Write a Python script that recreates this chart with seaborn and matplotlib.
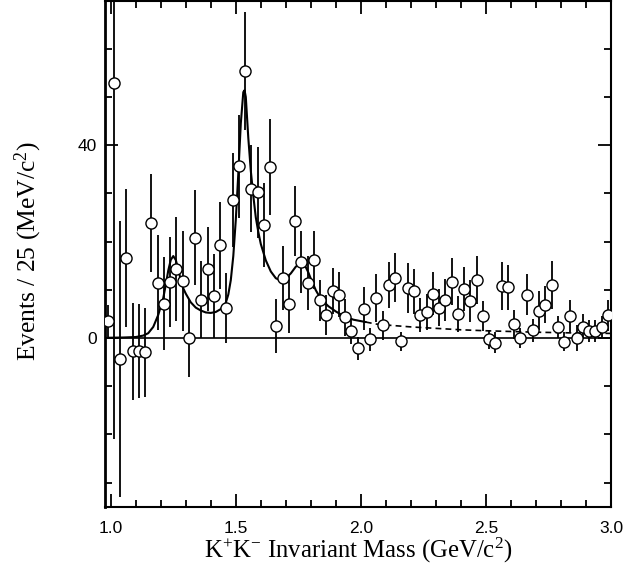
import numpy as np
import pandas as pd
import matplotlib
matplotlib.use("Agg")
import matplotlib.pyplot as plt
from matplotlib.ticker import MultipleLocator
import seaborn as sns

# ---- data ----
mass = [0.9875, 1.0125, 1.0375, 1.0625, 1.0875, 1.1125, 1.1375, 1.1625, 1.1875, 1.2125,
        1.2375, 1.2625, 1.2875, 1.3125, 1.3375, 1.3625, 1.3875, 1.4125, 1.4375, 1.4625,
        1.4875, 1.5125, 1.5375, 1.5625, 1.5875, 1.6125, 1.6375, 1.6625, 1.6875, 1.7125,
        1.7375, 1.7625, 1.7875, 1.8125, 1.8375, 1.8625, 1.8875, 1.9125, 1.9375, 1.9625,
        1.9875, 2.0125, 2.0375, 2.0625, 2.0875, 2.1125, 2.1375, 2.1625, 2.1875, 2.2125,
        2.2375, 2.2625, 2.2875, 2.3125, 2.3375, 2.3625, 2.3875, 2.4125, 2.4375, 2.4625,
        2.4875, 2.5125, 2.5375, 2.5625, 2.5875, 2.6125, 2.6375, 2.6625, 2.6875, 2.7125,
        2.7375, 2.7625, 2.7875, 2.8125, 2.8375, 2.8625, 2.8875, 2.9125, 2.9375, 2.9625,
        2.9875]
events = [3.5, 53.0, -4.3, 16.6, -2.75, -2.75, -3.0, 23.9, 11.5, 7.1,
          11.6, 14.3, 11.8, 0.0, 20.8, 7.9, 14.3, 8.8, 19.2, 6.2,
          28.6, 35.6, 55.4, 31.0, 30.2, 23.4, 35.5, 2.4, 12.5, 7.0,
          24.3, 15.7, 11.4, 16.1, 7.8, 4.8, 9.7, 9.0, 4.3, 1.4,
          -2.1, 6.1, -0.3, 8.3, 2.6, 11.0, 12.5, -0.7, 10.3, 9.7,
          4.8, 5.4, 9.2, 6.3, 7.9, 11.7, 5.0, 10.2, 7.7, 12.1,
          4.5, -0.3, -1.0, 10.8, 10.5, 2.8, 0.0, 9.0, 1.6, 5.7,
          6.9, 11.0, 2.3, -0.8, 4.6, 0.0, 2.3, 1.4, 1.4, 2.3,
          4.7]
errors = [3.3, 74.0, 28.6, 14.3, 10.1, 9.8, 9.2, 10.2, 9.8, 9.6,
          9.3, 10.8, 10.3, 8.0, 9.8, 8.0, 8.7, 8.7, 9.1, 7.2,
          9.7, 10.7, 12.2, 9.1, 9.5, 8.7, 10.0, 5.6, 6.6, 6.0,
          7.3, 6.4, 5.6, 6.0, 4.3, 4.1, 4.8, 4.7, 3.8, 2.7,
          2.4, 4.5, 2.4, 5.0, 3.1, 4.7, 5.1, 1.9, 5.2, 4.7,
          3.6, 3.8, 4.4, 3.8, 4.3, 4.8, 3.7, 4.6, 4.3, 5.0,
          3.1, 1.9, 2.2, 5.0, 4.7, 3.0, 2.0, 4.3, 2.4, 4.0,
          3.8, 5.0, 2.3, 2.0, 3.3, 2.6, 2.6, 2.3, 2.3, 2.3,
          3.2]

fit_mass = [0.99, 1.05, 1.10, 1.13, 1.15, 1.17, 1.19, 1.21, 1.22, 1.23, 1.24, 1.25,
            1.26, 1.27, 1.28, 1.29, 1.30, 1.32, 1.34, 1.36, 1.38, 1.40, 1.42, 1.44,
            1.46, 1.47, 1.48, 1.49, 1.50, 1.51, 1.52, 1.53, 1.535, 1.54, 1.55, 1.56,
            1.57, 1.58, 1.59, 1.60, 1.62, 1.64, 1.66, 1.68, 1.70, 1.72, 1.74, 1.76,
            1.775, 1.79, 1.80, 1.82, 1.84, 1.87, 1.90, 1.93, 1.97, 2.02]
fit_events = [0.05, 0.1, 0.2, 0.5, 1.0, 2.3, 4.8, 8.3, 11.0, 14.0, 16.2, 17.0,
              16.2, 14.3, 12.0, 10.3, 9.2, 7.4, 6.3, 5.7, 5.3, 5.2, 5.4, 6.0,
              7.3, 9.0, 12.0, 17.0, 24.5, 34.0, 44.5, 51.0, 51.4, 50.0, 41.5, 34.7,
              29.5, 25.0, 22.0, 19.5, 16.1, 13.8, 12.4, 11.9, 12.4, 13.4, 14.8, 15.6,
              15.2, 13.6, 12.3, 9.9, 8.1, 6.6, 5.5, 4.6, 3.8, 3.3]

bkg_mass = [2.02, 2.06, 2.10, 2.20, 2.30, 2.40, 2.50, 2.60, 2.70, 2.80, 2.90, 3.00]
bkg_events = [3.3, 2.9, 2.7, 2.3, 2.0, 1.7, 1.5, 1.35, 1.2, 1.1, 1.0, 0.95]

x_ticks = [1.0, 1.5, 2.0, 2.5, 3.0]
x_tick_labels = ["1.0", "1.5", "2.0", "2.5", "3.0"]
y_ticks = [0, 40]
y_tick_labels = ["0", "40"]

# ---- style ----
sns.set_theme(style="ticks")
plt.rcParams["font.family"] = ["Liberation Sans", "DejaVu Sans"]
plt.rcParams["mathtext.fontset"] = "custom"
plt.rcParams["mathtext.rm"] = "Liberation Serif"
plt.rcParams["mathtext.it"] = "Liberation Serif:italic"

df = pd.DataFrame({"mass": mass, "events": events, "err": errors})
fit_df = pd.DataFrame({"mass": fit_mass, "events": fit_events})
bkg_df = pd.DataFrame({"mass": bkg_mass, "events": bkg_events})

fig = plt.figure(figsize=(6.26, 5.71), dpi=100)
ax = fig.add_axes([0.1677, 0.1126, 0.8083, 0.8864])

ax.axhline(0, color="black", lw=1.2, zorder=1)

sns.lineplot(data=fit_df, x="mass", y="events", ax=ax, color="black", lw=1.5,
             sort=False, estimator=None, zorder=2)
sns.lineplot(data=bkg_df, x="mass", y="events", ax=ax, color="black", lw=1.2,
             sort=False, estimator=None, zorder=2)
ax.lines[-1].set_dashes((3.5, 2.5))

ax.errorbar(df["mass"], df["events"], yerr=df["err"], fmt="none", ecolor="black",
            elinewidth=1.3, capsize=0, zorder=3)
sns.scatterplot(data=df, x="mass", y="events", ax=ax, s=64, marker="o",
                facecolor="white", edgecolor="black", linewidth=1.0, zorder=4)

ax.set_xlim(0.977, 3.0)
ax.set_ylim(-35, 70)

ax.set_xticks(x_ticks)
ax.set_xticklabels(x_tick_labels)
ax.set_yticks(y_ticks)
ax.set_yticklabels(y_tick_labels)
ax.xaxis.set_minor_locator(MultipleLocator(0.1))
ax.yaxis.set_minor_locator(MultipleLocator(10))

ax.tick_params(which="both", direction="in", top=True, right=True, colors="black",
               labelsize=12.5, width=1.3)
ax.tick_params(which="major", length=9.5)
ax.tick_params(which="minor", length=5)
ax.tick_params(axis="x", which="major", pad=10)
ax.tick_params(axis="y", which="major", pad=6)
for sp in ax.spines.values():
    sp.set_linewidth(1.5)
    sp.set_color("black")
ax.spines["left"].set_linewidth(2.0)

ax.set_xlabel(r"K$^{\mathrm{+}}$K$^{\mathrm{-}}$ Invariant Mass (GeV/c$^{\mathrm{2}}$)",
              fontfamily="Liberation Serif", fontsize=17.8, color="black")
ax.set_ylabel(r"Events / 25 (MeV/c$^{\mathrm{2}}$)",
              fontfamily="Liberation Serif", fontsize=18.4, color="black")
ax.xaxis.set_label_coords(0.5, -0.058)
ax.yaxis.set_label_coords(-0.12, 0.504)

fig.savefig("out.png", dpi=100)
